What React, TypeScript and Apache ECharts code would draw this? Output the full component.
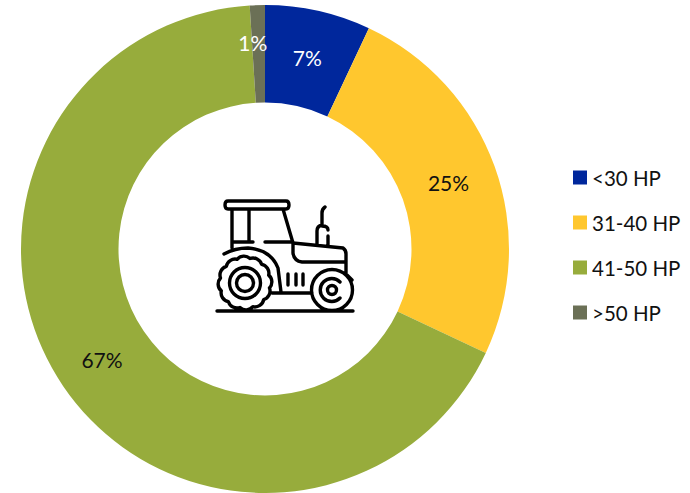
import React, { useEffect, useRef } from "react";
import * as echarts from "echarts";

const categories = ["<30 HP", "31-40 HP", "41-50 HP", ">50 HP"];
const shares = [7, 25, 67, 1];
const sliceColors = ["#00279C", "#FFC72E", "#97AC3C", "#6B7056"];
const labelColors = ["#ffffff", "#111111", "#111111", "#ffffff"];
const labelOffsets = [[-1, 2], [-3, 1], [1, -1], [-6, -8]];

// Scalloped outline of the rear tyre.
function tyreOutline(cx: number, cy: number, r: number, lugs: number): string {
  let d = "";
  for (let i = 0; i <= lugs; i++) {
    const a = (i / lugs) * Math.PI * 2 + 0.2;
    const x = (cx + r * Math.cos(a)).toFixed(1);
    const y = (cy + r * Math.sin(a)).toFixed(1);
    d += i === 0 ? `M${x} ${y}` : ` A9 9 0 0 1 ${x} ${y}`;
  }
  return d;
}

function ring(cx: number, cy: number, r: number): string {
  return `M${cx + r} ${cy} A${r} ${r} 0 1 1 ${cx - r} ${cy} A${r} ${r} 0 1 1 ${cx + r} ${cy} Z`;
}

const tractorPath = [
  // roof
  "M228 201 L286 201 Q289 201 289 205 Q289 209 286 209 L228 209 Q225 209 225 205 Q225 201 228 201 Z",
  // cab
  "M232 209 L232 248 M249 209 L249 241 M233 242 L253 242 M265 242 L293 242 M283 209 L293 243",
  // bonnet
  "M293 243 L343 248 Q346 250 346 254 L346 274 M293 243 L293 253 Q294 261 302 262 L346 262",
  // exhaust
  "M325 207 Q322 209 322 213 L322 225 Q317 226 317 231 L317 245 M322 226 Q328 226 328 230 M328 236 L328 246",
  // fender, chassis, front axle
  "M224 254 Q235 248 248 248 Q271 250 278 268 L281 292 M272 293 L312 293 M346 274 L352 280",
  // vents
  "M288 274 L288 285 M296 274 L296 285 M303 274 L303 285",
  // ground
  "M217 311 L353 311",
  // rear wheel
  tyreOutline(245, 283, 25, 12),
  ring(245, 283, 15.5),
  ring(245, 283, 8.5),
  // front wheel
  ring(332, 290, 20.5),
  "M340 282 A11.5 11.5 0 1 0 340 298",
  ring(332, 290, 4.5),
].join(" ");

echarts.graphic.registerShape("tractor", echarts.graphic.extendPath(tractorPath, {}) as any);

export default function App() {
  const ref = useRef<HTMLDivElement>(null);

  useEffect(() => {
    const chart = echarts.init(ref.current!, undefined, { renderer: "svg" });
    chart.setOption({
      animation: false,
      backgroundColor: "#ffffff",
      textStyle: { fontFamily: "Lato" },
      color: sliceColors,
      legend: {
        orient: "vertical",
        left: 573,
        top: 167,
        padding: 0,
        icon: "rect",
        itemWidth: 14,
        itemHeight: 14,
        itemGap: 24,
        data: categories,
        selectedMode: false,
        textStyle: { fontFamily: "Lato", fontSize: 20.5, lineHeight: 21, color: "#111111" },
      },
      series: [
        {
          type: "pie",
          center: [265, 249],
          radius: [146.5, 244],
          startAngle: 90,
          clockwise: true,
          avoidLabelOverlap: false,
          labelLine: { show: false },
          label: {
            position: "inside",
            formatter: "{c}%",
            fontFamily: "Lato",
            fontSize: 21,
          },
          data: categories.map((name, i) => ({
            name,
            value: shares[i],
            label: {
              color: labelColors[i],
              offset: labelOffsets[i],
            },
          })),
        },
      ],
      graphic: [
        {
          type: "tractor",
          x: 0,
          y: 0,
          style: { fill: "none", stroke: "#000000", lineWidth: 3.4, lineCap: "round", lineJoin: "round" },
        },
      ],
    });
    return () => chart.dispose();
  }, []);

  return <div ref={ref} style={{ position: "absolute", left: 0, top: 0, width: 690, height: 493 }} />;
}
